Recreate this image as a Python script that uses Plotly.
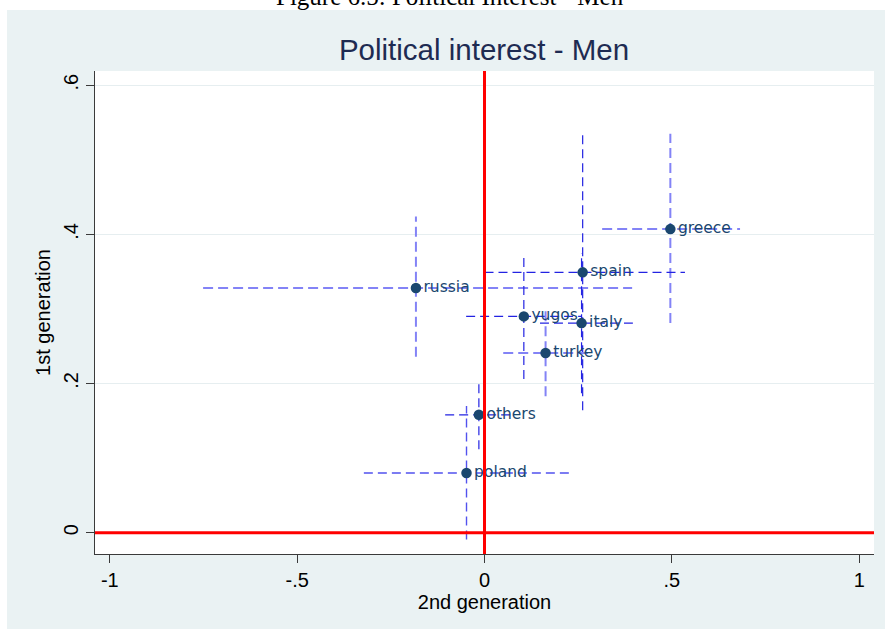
import plotly.graph_objects as go

# ---- data ----
countries = ["greece", "spain", "russia", "yugos", "italy", "turkey", "others", "poland"]
gen2 = [0.496, 0.262, -0.183, 0.105, 0.259, 0.163, -0.015, -0.048]
gen1 = [0.407, 0.349, 0.328, 0.290, 0.281, 0.241, 0.158, 0.080]
gen2_lo = [0.314, 0.000, -0.751, -0.049, 0.148, 0.050, -0.105, -0.322]
gen2_hi = [0.682, 0.535, 0.394, 0.260, 0.396, 0.276, 0.076, 0.228]
gen1_lo = [0.281, 0.164, 0.236, 0.206, 0.187, 0.183, 0.112, -0.009]
gen1_hi = [0.535, 0.535, 0.424, 0.372, 0.375, 0.299, 0.203, 0.170]

x_tickvals = [-1, -0.5, 0, 0.5, 1]
x_ticktext = ["-1", "-.5", "0", ".5", "1"]
y_tickvals = [0, 0.2, 0.4, 0.6]
y_ticktext = ["0", ".2", ".4", ".6"]

# ---- styles ----
LIGHT = dict(color="#8383f6", width=2, dash="10px,5px")
DARK = dict(color="#2323e2", width=1.2, dash="9px,5px")
MID = dict(color="#5252ee", width=1.4, dash="9px,5px")
line_style = {"greece": LIGHT, "spain": DARK, "russia": LIGHT, "yugos": DARK,
              "italy": DARK, "turkey": LIGHT, "others": DARK, "poland": MID}
NAVY = "#1a476f"
BG = "#eaf2f3"

W, H = 887, 632
ML, MR, MT, MB = 95, 13, 71, 78
PW, PH = W - ML - MR, H - MT - MB


def px2paper_x(px):
    return (px - ML) / PW


def px2paper_y(py):
    return (H - MB - py) / PH


fig = go.Figure()

for i, c in enumerate(countries):
    st = line_style[c]
    fig.add_trace(go.Scatter(x=[gen2_lo[i], gen2_hi[i]], y=[gen1[i], gen1[i]],
                             mode="lines", line=st, hoverinfo="skip", showlegend=False))
    fig.add_trace(go.Scatter(x=[gen2[i], gen2[i]], y=[gen1_lo[i], gen1_hi[i]],
                             mode="lines", line=st, hoverinfo="skip", showlegend=False))

fig.add_trace(go.Scatter(
    x=gen2, y=gen1, mode="markers+text", text=countries,
    textposition="middle right",
    textfont=dict(family="DejaVu Sans", size=15.5, color=NAVY),
    marker=dict(color=NAVY, size=10.5, line=dict(width=0)),
    showlegend=False, cliponaxis=False))

fig.add_vline(x=0, line=dict(color="#ff0000", width=3), layer="above")
fig.add_hline(y=0, line=dict(color="#ff0000", width=3), layer="above")

# white page strips around the graph region
white = dict(type="rect", xref="paper", yref="paper", fillcolor="white",
             line=dict(width=0), layer="below")
fig.add_shape(**white, x0=px2paper_x(-5), x1=px2paper_x(7), y0=px2paper_y(640), y1=px2paper_y(-5))
fig.add_shape(**white, x0=px2paper_x(-5), x1=px2paper_x(892), y0=px2paper_y(10), y1=px2paper_y(-5))
fig.add_shape(**white, x0=px2paper_x(885), x1=px2paper_x(892), y0=px2paper_y(640), y1=px2paper_y(-5))
fig.add_shape(**white, x0=px2paper_x(-5), x1=px2paper_x(892), y0=px2paper_y(640), y1=px2paper_y(629))

# page caption (cut off at top of picture, as in the reference)
fig.add_annotation(text="Figure 6.5: Political Interest - Men", xref="paper", yref="paper",
                   x=px2paper_x(450), y=px2paper_y(-4), xanchor="center", yanchor="middle",
                   showarrow=False, font=dict(family="Liberation Serif", size=25, color="#000000"))

fig.update_layout(
    width=W, height=H,
    margin=dict(l=ML, r=MR, t=MT, b=MB),
    paper_bgcolor=BG, plot_bgcolor="white",
    title=dict(text="Political interest - Men", x=484 / W,
               xanchor="center", y=1 - 50 / H, yanchor="middle",
               font=dict(family="Liberation Sans", size=29.5, color="#1e2b52")),
    font=dict(family="Liberation Sans", color="#000000"),
    xaxis=dict(range=[-1.0395, 1.0395], tickvals=x_tickvals, ticktext=x_ticktext,
               showgrid=False, zeroline=False, showline=True, linecolor="#3a3a3a", linewidth=1,
               ticks="outside", ticklen=8, tickcolor="#3a3a3a",
               tickfont=dict(size=20, family="Liberation Sans"),
               title=dict(text="2nd generation", font=dict(size=20, family="Liberation Sans"), standoff=4)),
    yaxis=dict(range=[-0.0286, 0.619], tickvals=y_tickvals, ticktext=y_ticktext, tickangle=-90,
               showgrid=True, gridcolor="#e6eef0", gridwidth=1,
               zeroline=False, showline=True, linecolor="#3a3a3a", linewidth=1,
               ticks="outside", ticklen=8, tickcolor="#3a3a3a",
               tickfont=dict(size=20, family="Liberation Sans"),
               title=dict(text="1st generation", font=dict(size=20, family="Liberation Sans"), standoff=4)),
)

fig.write_html("out.html")
